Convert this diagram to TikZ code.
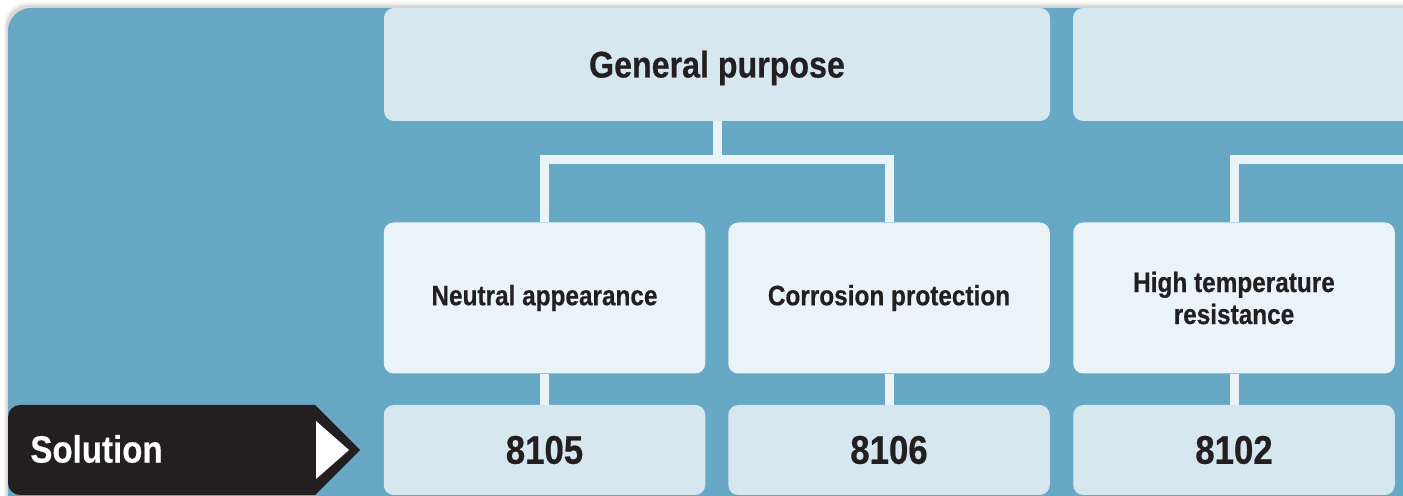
\documentclass[tikz,border=0pt]{standalone}
\usepackage{fontspec}
\setmainfont[FakeStretch=0.87, BoldFeatures={FakeBold=0.5}]{Liberation Sans}
\usepackage{tikz}
\usetikzlibrary{positioning}
\definecolor{PanelBlue}{RGB}{103, 168, 196}
\definecolor{HeadTint}{RGB}{214, 231, 239}
\definecolor{FeatTint}{RGB}{234, 243, 247}
\definecolor{InkBlack}{RGB}{35, 31, 32}
\tikzset{
    headbox/.style={rectangle, fill=HeadTint, rounded corners=5pt, inner sep=0pt,
        minimum width=333pt, minimum height=56.5pt, text=InkBlack,
        font=\fontsize{18.5}{21}\selectfont\bfseries},
    featbox/.style={rectangle, fill=FeatTint, rounded corners=5pt, inner sep=0pt,
        minimum width=160.75pt, minimum height=75.5pt, text=InkBlack, align=center,
        font=\fontsize{14}{16}\selectfont\bfseries},
    codebox/.style={rectangle, fill=HeadTint, rounded corners=5pt, inner sep=0pt,
        minimum width=160.75pt, minimum height=45pt, text=InkBlack,
        font=\fontsize{20}{22}\selectfont\bfseries},
    link/.style={draw=FeatTint, line width=4.5pt}
}

\begin{document}
\begin{tikzpicture}[x=0.5pt, y=-0.5pt]
    \useasboundingbox (0,0) rectangle (1403,496);
    \clip (0,0) rectangle (1403,496);
    % panel with soft shadow
    \fill[black, opacity=0.06, rounded corners=12pt] (4,2.5) rectangle (1460,560);
    \fill[black, opacity=0.09, rounded corners=11pt] (6,5) rectangle (1460,560);
    \fill[PanelBlue, rounded corners=11.5pt] (8,8) rectangle (1460,560);

    % boxes
    \node[headbox, text height=17pt, text depth=4pt] (head) at (717,64.5) {General purpose};
    \node[headbox, minimum width=200pt] (headR) at (1273,64.5) {};

    \node[featbox] (feat1) at (544.5,298) {Neutral appearance};
    \node[featbox] (feat2) at (889,298) {Corrosion protection};
    \node[featbox] (feat3) at (1234,298) {High temperature\\resistance};

    \node[codebox] (code1) at (544.5,450) {8105};
    \node[codebox] (code2) at (889,450) {8106};
    \node[codebox] (code3) at (1234,450) {8102};

    % connectors
    \coordinate (hj) at (717,160);
    \coordinate (rj) at (1420,160);
    \draw[link] (head.south) -- (hj);
    \draw[link] (feat1.north) |- (hj) -| (feat2.north);
    \draw[link] (feat3.north) |- (rj);
    \foreach \i in {1,2,3}
        \draw[link] (feat\i.south) -- (code\i.north);

    % solution tag
    \fill[InkBlack] (315,405) -- (360,450) -- (315,495)
        [rounded corners=6pt] -- (8,495) -- (8,405) [sharp corners] -- cycle;
    \fill[white] (316,421) -- (349,450) -- (316,479) -- cycle;
    \node[anchor=west, text=white, inner sep=0pt,
        font=\fontsize{19}{21}\selectfont\bfseries] (soltext) at (30,449) {Solution};
\end{tikzpicture}
\end{document}
